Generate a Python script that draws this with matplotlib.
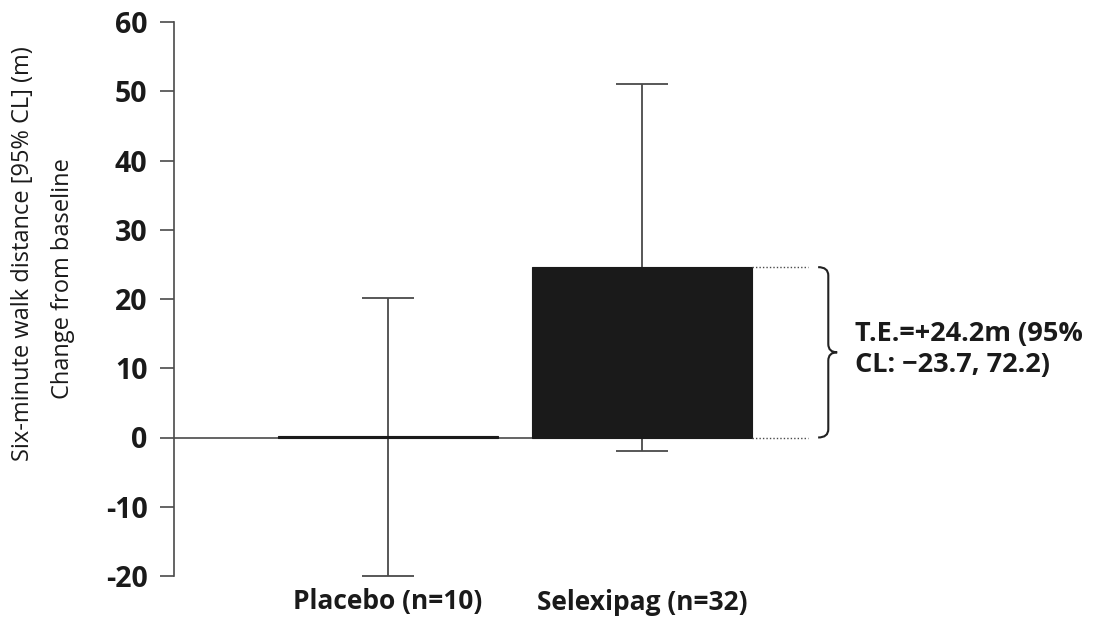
import numpy as np
import matplotlib as mpl
import matplotlib.pyplot as plt
from matplotlib.path import Path
from matplotlib.patches import PathPatch

mpl.rcParams.update({"font.family": ["Open Sans", "DejaVu Sans"], "font.size": 15})

groups = ["Placebo (n=10)", "Selexipag (n=32)"]
means = [0.2, 24.6]
ci_low = [-20.0, -2.0]
ci_high = [20.2, 51.1]
yticks = [-20, -10, 0, 10, 20, 30, 40, 50, 60]
ytick_labels = ["-20", "-10", "0", "10", "20", "30", "40", "50", "60"]
effect_text = "T.E.=+24.2m (95%\nCL: \u221223.7, 72.2)"

LINE = "#4a4a4a"
BAR = "#1a1a1a"
W = 0.864

fig = plt.figure(figsize=(10.96, 6.22), dpi=100)
ax = fig.add_axes([174 / 1096, 46 / 622, 922 / 1096, 554 / 622])
x = np.arange(len(groups))

ax.bar(x, means, width=W, color=BAR, edgecolor=BAR, lw=0.8, zorder=2)
yerr = np.array([np.array(means) - np.array(ci_low), np.array(ci_high) - np.array(means)])
ax.errorbar(x, means, yerr=yerr, fmt="none", ecolor=LINE, elinewidth=1.3,
            capsize=19, capthick=1.3, zorder=1)

# zero line from the axis up to the selexipag bar
ax.plot([-0.843, x[1] - W / 2], [0, 0], color=LINE, lw=1.2, zorder=1.5)

# dotted guides + brace for treatment effect
xr = x[1] + W / 2
for yv in (means[1], 0):
    ax.plot([xr, 1.654], [yv, yv], color=LINE, lw=1.0, ls=(0, (1, 1.5)))
x0, x1 = 1.693, 1.768
y0, y1 = 0, means[1]
ym = (y0 + y1) / 2
r = 1.2
verts = [(x0, y1), (x0 + 0.04, y1), (x0 + 0.04, y1 - r), (x0 + 0.04, ym + r),
         (x0 + 0.04, ym), (x1, ym),
         (x0 + 0.04, ym), (x0 + 0.04, ym - r), (x0 + 0.04, y0 + r),
         (x0 + 0.04, y0), (x0, y0)]
codes = [Path.MOVETO, Path.CURVE3, Path.CURVE3, Path.LINETO,
         Path.CURVE3, Path.CURVE3,
         Path.CURVE3, Path.CURVE3, Path.LINETO,
         Path.CURVE3, Path.CURVE3]
ax.add_patch(PathPatch(Path(verts, codes), fc="none", ec="#222222", lw=1.5))
ax.text(1.839, ym + 0.4, effect_text, ha="left", va="center", fontsize=19.5,
        fontweight="bold", color="#1a1a1a", linespacing=1.25)

ax.set_xlim(-0.843, 2.787)
ax.set_ylim(-20, 60)
ax.set_yticks(yticks, ytick_labels)
ax.set_xticks(x, groups)
ax.tick_params(axis="x", length=0, pad=9, labelsize=19)
ax.tick_params(axis="y", length=10, width=1.2, color=LINE, pad=9, labelsize=20.5)
for lab in ax.get_xticklabels() + ax.get_yticklabels():
    lab.set_fontweight("bold")
    lab.set_color("#1a1a1a")
for sp in ("top", "right", "bottom"):
    ax.spines[sp].set_visible(False)
ax.spines["left"].set_color(LINE)
ax.spines["left"].set_linewidth(1.2)

fig.text(23 / 1096, 1 - 254 / 622, "Six-minute walk distance [95% CL] (m)", rotation=90,
         ha="center", va="center", fontsize=17, color="#1a1a1a")
fig.text(63 / 1096, 1 - 279 / 622, "Change from baseline", rotation=90,
         ha="center", va="center", fontsize=17, color="#1a1a1a")

fig.savefig("out.png", dpi=100)
